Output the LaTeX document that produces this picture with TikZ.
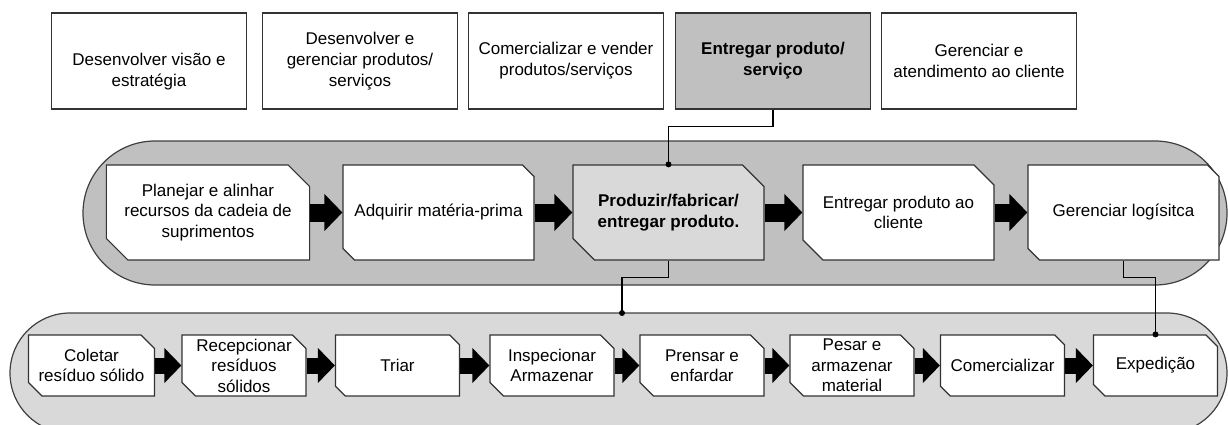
\documentclass[tikz,border=0pt]{standalone}
\usepackage{fontspec}
\setmainfont{Liberation Sans}
\usetikzlibrary{arrows.meta, shapes.misc, calc}
\definecolor{bandgray}{HTML}{C0C0C0}
\definecolor{palegray}{HTML}{D9D9D9}
\tikzset{
    my-top-box/.style={
        draw=black!80, line width=1.2pt, fill=white, rectangle, minimum width=195pt, minimum height=96pt,
        inner sep=0pt, align=center, font=\fontsize{17}{21}\selectfont
    },
    my-step-box/.style={
        draw=black!80, line width=1.2pt, fill=white, chamfered rectangle,
        chamfered rectangle corners={north east, south west}, chamfered rectangle xsep=18pt,
        minimum width=191pt, minimum height=95pt, inner sep=0pt, align=center, font=\fontsize{17}{20.5}\selectfont
    },
    my-small-step-box/.style={
        my-step-box, chamfered rectangle xsep=10pt, minimum width=124pt, minimum height=61pt
    },
    my-band/.style={
        draw=black!75, line width=1.2pt
    },
    my-flow/.style={
        line width=18pt, -{Triangle[length=18pt, width=36pt]}
    },
    my-small-flow/.style={
        line width=16pt, -{Triangle[length=17pt, width=34pt]}
    },
    my-wire/.style={
        draw=black, line width=1.1pt
    },
    my-branch/.style={
        fill, shape=circle, minimum size=6pt, inner sep=0pt
    },
}
\begin{document}
\begin{tikzpicture}[x=1pt, y=-1pt]

        \clip (0, 0) rectangle (1228, 425);

        % MACROPROCESSES ------------------------------------------------------------------------------
        \node[my-top-box] (TOP1) at (149, 61)              {\rule{0pt}{34pt}Desenvolver visão e\\estratégia};
        \node[my-top-box] (TOP2) at ($(TOP1) + (211, 0)$) {Desenvolver e\\gerenciar produtos/\\serviços};
        \node[my-top-box] (TOP3) at ($(TOP2) + (206, 0)$) {Comercializar e vender\\produtos/serviços};
        \node[my-top-box, fill=bandgray] (TOP4) at ($(TOP3) + (207, 0)$) {\textbf{Entregar produto/}\\\textbf{serviço}};
        \node[my-top-box] (TOP5) at ($(TOP4) + (206, 0)$) {Gerenciar e\\atendimento ao cliente};

        % SUPPLY CHAIN BAND ---------------------------------------------------------------------------
        \draw[my-band, fill=bandgray, rounded corners=72pt] (83, 141) rectangle (1227, 285);

        \node[my-step-box] (PLAN)   at (208, 212.5)            {Planejar e alinhar\\recursos da cadeia de\\suprimentos};
        \node[my-step-box] (ADQ)    at ($(PLAN) + (230.5, 0)$) {Adquirir matéria-prima};
        \node[my-step-box, fill=palegray] (PROD) at ($(ADQ) + (230, 0)$) {\textbf{Produzir/fabricar/}\\\textbf{entregar produto.}};
        \node[my-step-box] (ENTCLI) at ($(PROD) + (230, 0)$)   {Entregar produto ao\\cliente};
        \node[my-step-box] (GERLOG) at ($(ENTCLI) + (225, 0)$) {Gerenciar logísitca};

        % FLOW ARROWS - SUPPLY CHAIN
        \draw[my-flow] (PLAN.east)   -- (ADQ.west);
        \draw[my-flow] (ADQ.east)    -- (PROD.west);
        \draw[my-flow] (PROD.east)   -- (ENTCLI.west);
        \draw[my-flow] (ENTCLI.east) -- (GERLOG.west);

        % RECYCLING BAND ------------------------------------------------------------------------------
        \draw[my-band, fill=palegray, rounded corners=60pt] (10, 313) rectangle (1227, 433);

        \node[my-small-step-box] (COLETA) at (91.5, 365.5)            {Coletar\\resíduo sólido};
        \node[my-small-step-box] (RECEP)  at ($(COLETA) + (152.5, 0)$) {Recepcionar\\resíduos\\sólidos};
        \node[my-small-step-box] (TRIAR)  at ($(RECEP) + (153.5, 0)$)  {Triar};
        \node[my-small-step-box] (INSP)   at ($(TRIAR) + (154.5, 0)$)  {Inspecionar\\Armazenar};
        \node[my-small-step-box] (PRENSA) at ($(INSP) + (150, 0)$)     {Prensar e\\enfardar};
        \node[my-small-step-box] (PESAR)  at ($(PRENSA) + (150, 0)$)   {Pesar e\\armazenar\\material};
        \node[my-small-step-box] (COMERC) at ($(PESAR) + (150.5, 0)$)  {Comercializar};
        \node[my-small-step-box] (EXPED)  at ($(COMERC) + (153, 0)$)   {Expedição};

        % FLOW ARROWS - RECYCLING
        \draw[my-small-flow] (COLETA.east) -- (RECEP.west);
        \draw[my-small-flow] (RECEP.east)  -- (TRIAR.west);
        \draw[my-small-flow] (TRIAR.east)  -- (INSP.west);
        \draw[my-small-flow] (INSP.east)   -- (PRENSA.west);
        \draw[my-small-flow] (PRENSA.east) -- (PESAR.west);
        \draw[my-small-flow] (PESAR.east)  -- (COMERC.west);
        \draw[my-small-flow] (COMERC.east) -- (EXPED.west);

        % LINKS BETWEEN LEVELS ------------------------------------------------------------------------
        \coordinate (LOWTAP) at (622, 313);
        \draw[my-wire] (TOP4.south) -- ++(0, 17) -| (PROD.north);
        \node[my-branch] at (PROD.north) {};
        \draw[my-wire] (PROD.south) -- ++(0, 17) -| (LOWTAP);
        \node[my-branch] at (LOWTAP) {};
        \draw[my-wire] (GERLOG.south) -- ++(0, 17) -| (EXPED.north);
        \node[my-branch] at (EXPED.north) {};

    \end{tikzpicture}
\end{document}
